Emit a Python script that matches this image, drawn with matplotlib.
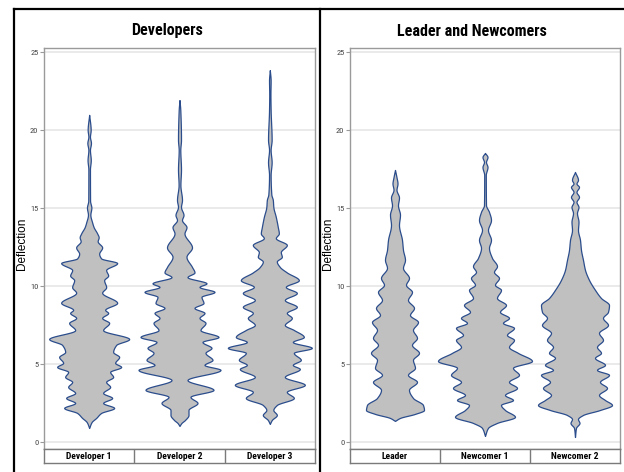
import numpy as np
import matplotlib
matplotlib.use("Agg")
import matplotlib.pyplot as plt
from matplotlib.lines import Line2D

NARROW = ['Roboto Condensed', 'PT Sans Narrow', 'Liberation Sans', 'DejaVu Sans']
REGULAR = ['Liberation Sans', 'DejaVu Sans']
plt.rcParams['font.family'] = NARROW

# ---------------- data ----------------
panel_titles = ["Developers", "Leader and Newcomers"]
panel_groups = [["Developer 1", "Developer 2", "Developer 3"],
                ["Leader", "Newcomer 1", "Newcomer 2"]]
y_label = "Deflection"
y_ticks = [0, 5, 10, 15, 20, 25]

# violin outlines: deflection levels and density (half-width)
dev1_y = [21.0, 20.03, 19.6, 19.2, 18.75, 18.1, 17.5, 15.5, 15.05, 14.6, 14.1, 13.8, 13.4, 13.15,
          12.9, 12.5, 12.1, 11.8, 11.5, 11.05, 10.7, 10.4, 9.95, 9.6, 8.95, 8.5, 8.3, 7.98, 7.66,
          7.2, 6.63, 6.25, 5.8, 5.48, 5.1, 4.84, 4.52, 4.2, 3.88, 3.56, 3.17, 2.85, 2.53, 2.21,
          1.89, 1.57, 1.31, 0.93]
dev1_d = [0, 1.5, 0.8, 1.8, 0.8, 1.6, 0.8, 0.9, 2.2, 1.2, 3, 4.5, 8, 9.5,
          8.5, 13, 10, 12, 28, 17, 19, 15, 17, 13, 28, 16, 19, 13, 20,
          14, 40, 27, 24, 30, 26, 32, 21, 24, 17, 21, 14, 23, 14, 25,
          12, 7, 2.5, 0]

dev2_y = [21.95, 21.3, 19.4, 18.75, 17.5, 16.5, 15.54, 15.1, 14.58, 14.26, 13.8, 13.4, 12.5,
          11.9, 11.25, 10.9, 10.6, 10.2, 9.97, 9.65, 9.33, 8.94, 8.62, 8.3, 7.98, 7.66, 7.2,
          6.76, 6.44, 6.06, 5.74, 5.29, 4.97, 4.65, 4.0, 3.37, 2.92, 2.53, 2.08, 1.76, 1.44,
          1.25, 1.06]
dev2_d = [0, 0.8, 1.5, 0.8, 1.5, 0.9, 2.5, 1.5, 4, 2.5, 7, 5, 12.5,
          7, 12.5, 15, 8, 27, 20, 35, 22, 24, 15, 25, 20, 26, 21,
          39, 23, 32, 26, 33, 25, 41, 8, 34, 11, 18, 9, 9, 5.5,
          2, 0]

dev3_y = [23.87, 23.2, 22.3, 21.3, 19.4, 18.75, 17.97, 17.15, 15.9, 15.54, 15.1, 14.45, 13.8,
          13.4, 13.1, 12.66, 12.2, 11.9, 11.6, 11.25, 10.9, 10.4, 9.97, 9.58, 9.13, 8.69, 8.3,
          7.98, 7.53, 7.21, 6.76, 6.44, 6.06, 5.74, 5.29, 4.97, 4.71, 4.2, 3.69, 3.24, 2.85,
          2.4, 2.08, 1.76, 1.44, 1.19]
dev3_d = [0, 0.8, 0.6, 0.8, 1.8, 0.8, 1.8, 0.8, 1.5, 3, 3.5, 6, 8,
          9, 6, 17, 11, 12, 7, 10, 17, 29, 16, 27, 15, 27, 17,
          22, 15, 24, 34, 23, 42, 24, 31, 23, 30, 15, 35, 17, 24,
          7, 3.5, 7, 2, 0]

lead_y = [17.47, 17.0, 16.6, 16.2, 15.7, 15.2, 14.6, 13.94, 12.98, 12.34, 11.7, 11.19, 10.54,
          10.1, 9.65, 9.13, 8.62, 8.17, 7.72, 7.21, 6.7, 6.25, 5.74, 5.29, 4.78, 4.33, 3.88,
          3.37, 2.85, 2.4, 2.08, 1.83, 1.57, 1.38]
lead_d = [0, 1.5, 2.5, 1.5, 4, 3, 5, 4, 7, 8, 10, 8, 14,
          11, 17, 13, 19, 15, 23, 18, 22, 17, 24, 18, 20, 13, 22,
          14, 18, 28, 29, 20, 5, 0]

new1_y = [18.56, 18.3, 17.98, 17.66, 17.15, 15.22, 14.78, 14.26, 13.62, 12.98, 12.47, 11.83,
          11.3, 10.93, 10.54, 10.1, 9.78, 9.26, 8.81, 8.37, 7.98, 7.66, 7.34, 6.89, 6.57, 6.12,
          5.74, 5.22, 4.78, 4.33, 3.88, 3.49, 3.04, 2.72, 2.4, 2.08, 1.64, 1.25, 0.93, 0.42]
new1_d = [0, 2.5, 1, 2.5, 0.8, 1, 4, 6, 3, 6, 4, 7,
          12, 9, 14, 10, 16, 12, 21, 15, 24, 18, 29, 22, 29, 24,
          33, 47, 28, 34, 24, 32, 20, 28, 16, 20, 30, 12, 3, 0]

new2_y = [17.34, 16.83, 16.6, 16.38, 16.06, 15.74, 15.42, 15.1, 14.71, 14.14, 13.62, 12.98,
          12.34, 11.7, 11.06, 10.42, 9.78, 9.26, 8.81, 8.37, 7.98, 7.53, 7.02, 6.57, 6.12,
          5.74, 5.42, 4.97, 4.65, 4.33, 3.88, 3.49, 3.04, 2.72, 2.4, 2.08, 1.76, 1.5, 1.25,
          0.93, 0.35]
new2_d = [0, 3, 1.5, 4, 1.5, 4, 1.5, 3.5, 2, 3.5, 3, 5,
          6, 8, 10, 14, 20, 26, 34, 33, 28, 33, 24, 28, 22,
          26, 20, 30, 22, 34, 25, 32, 24, 30, 37, 25, 8, 3, 4.5,
          1, 0]

panel_data = [[(dev1_y, dev1_d), (dev2_y, dev2_d), (dev3_y, dev3_d)],
              [(lead_y, lead_d), (new1_y, new1_d), (new2_y, new2_d)]]

# ---------------- helpers ----------------
def pchip(x, y, xn):
    x = np.asarray(x, float); y = np.asarray(y, float)
    h = np.diff(x); d = np.diff(y) / h
    m = np.zeros_like(y)
    for k in range(1, len(y) - 1):
        if d[k - 1] * d[k] > 0:
            w1 = 2 * h[k] + h[k - 1]; w2 = h[k] + 2 * h[k - 1]
            m[k] = (w1 + w2) / (w1 / d[k - 1] + w2 / d[k])
    m[0] = d[0]; m[-1] = d[-1]
    idx = np.clip(np.searchsorted(x, xn) - 1, 0, len(x) - 2)
    t = (xn - x[idx]) / h[idx]
    h00 = 2 * t**3 - 3 * t**2 + 1; h10 = t**3 - 2 * t**2 + t
    h01 = -2 * t**3 + 3 * t**2; h11 = t**3 - t**2
    return h00 * y[idx] + h10 * h[idx] * m[idx] + h01 * y[idx + 1] + h11 * h[idx] * m[idx + 1]

W, H = 624, 472
fig = plt.figure(figsize=(W / 100, H / 100), dpi=100)

def fx(px): return px / W
def fy(py): return 1 - py / H

ymin, ymax = -0.42, 25.32
fill_c = '#c0c0c0'
edge_c = '#2b4d8c'
spine_c = '#9a9a9a'

axes_x = [(44, 315), (350, 620)]
for p in range(2):
    x0, x1 = axes_x[p]
    ax = fig.add_axes([fx(x0), fy(449), fx(x1 - x0), (449 - 47.5) / H])
    ax.set_xlim(0, 3)
    ax.set_ylim(ymin, ymax)
    px_per_unit = (x1 - x0) / 3.0
    for i, (yy, dd) in enumerate(panel_data[p]):
        yy = np.asarray(yy)[::-1]; dd = np.asarray(dd)[::-1]
        yf = np.linspace(yy[0], yy[-1], 1500)
        wf = np.clip(pchip(yy, dd, yf), 0, None) / px_per_unit
        c = i + 0.5
        ax.fill_betweenx(yf, c - wf, c + wf, facecolor=fill_c, edgecolor=edge_c,
                         linewidth=0.9, zorder=3)
    ax.set_yticks(y_ticks)
    ax.set_yticklabels([str(t) for t in y_ticks], fontsize=6, color='#444444')
    ax.tick_params(axis='y', length=3, width=0.8, color=spine_c, pad=1)
    ax.set_xticks([])
    ax.grid(axis='y', color='#e6e6e6', linewidth=1.2, zorder=0)
    ax.set_axisbelow(True)
    for s in ax.spines.values():
        s.set_color(spine_c); s.set_linewidth(1.0)
    ax.set_ylabel(y_label, fontsize=8.5, family=REGULAR)
    ax.yaxis.set_label_coords(-16.0 / (x1 - x0), 0.51)

    # category box
    cb = fig.add_axes([fx(x0), fy(463), fx(x1 - x0), 14 / H])
    cb.set_xlim(0, 3); cb.set_ylim(0, 1)
    cb.set_xticks([]); cb.set_yticks([])
    for s in cb.spines.values():
        s.set_color('#7a7a7a'); s.set_linewidth(1.0)
    for k in (1, 2):
        cb.axvline(k, color='#7a7a7a', linewidth=1.0)
    for i, g in enumerate(panel_groups[p]):
        cb.text(i + 0.5, 0.45, g, ha='center', va='center', fontsize=6.8, fontweight='bold')

# panel titles
fig.text(fx(167), fy(31), panel_titles[0], ha='center', va='center', fontsize=11.5, fontweight='bold')
fig.text(fx(472), fy(31), panel_titles[1], ha='center', va='center', fontsize=11.5, fontweight='bold')

# outer frame lines
lw = 1.6
fig.add_artist(Line2D([fx(14), fx(14)], [fy(9), 0], color='black', linewidth=lw))
fig.add_artist(Line2D([fx(320), fx(320)], [fy(9), 0], color='black', linewidth=lw))
fig.add_artist(Line2D([fx(14), 1], [fy(9), fy(9)], color='black', linewidth=lw))

fig.savefig('out.png', dpi=100)
